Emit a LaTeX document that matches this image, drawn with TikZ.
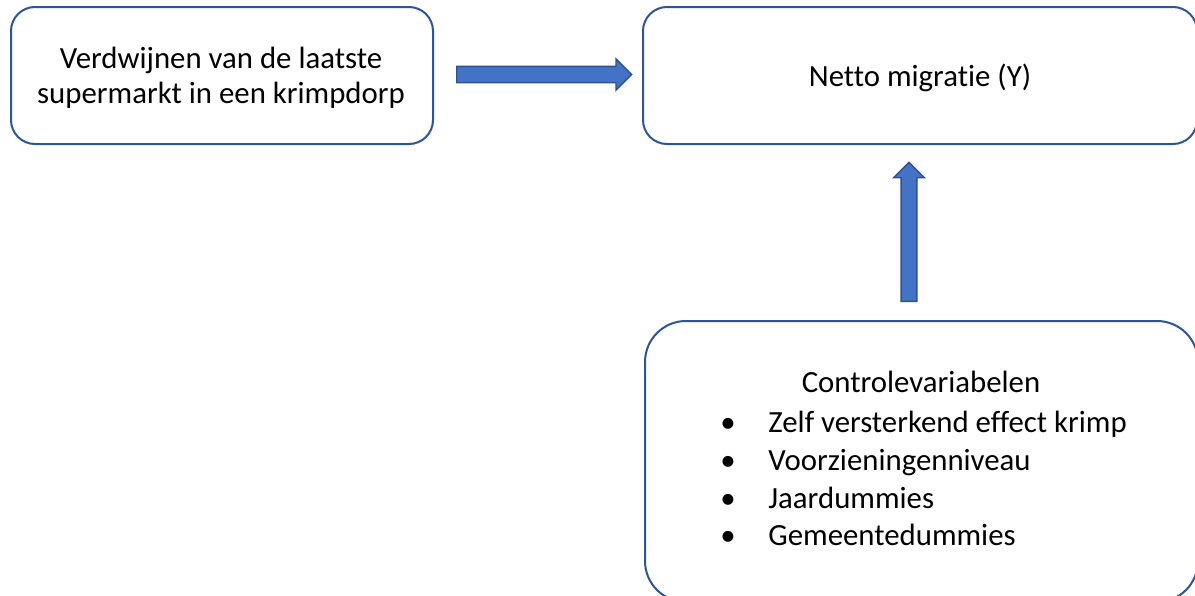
\documentclass[tikz,border=0pt]{standalone}
\usepackage{fontspec}
\setmainfont{Carlito}[Ligatures=NoCommon]
\usepackage{tikz}
\usetikzlibrary{positioning, shapes.arrows}
\definecolor{frame}{RGB}{47,85,151}
\definecolor{arrfill}{RGB}{68,114,196}
\definecolor{arrline}{RGB}{47,82,143}
\tikzset{
  box/.style      ={rectangle, rounded corners=12pt, draw=frame, line width=1pt,
                    fill=white, inner sep=0pt},
  bigbox/.style   ={box, rounded corners=20.5pt},
  fatarrow/.style ={single arrow, draw=arrline, fill=arrfill, line width=0.7pt,
                    inner xsep=0pt, inner ysep=3.75pt, minimum width=15pt,
                    single arrow head extend=3.75pt, anchor=tail},
  uparrow/.style  ={fatarrow, shape border rotate=90, inner xsep=3.6pt, inner ysep=0pt},
  txt/.style      ={inner sep=0pt, align=center},
}

\begin{document}
\begin{tikzpicture}[x=0.5pt, y=-0.5pt, every node/.style={font=\fontsize{15.4}{17.5}\selectfont}]
\useasboundingbox (0,0) rectangle (1195,595);
\fill[white] (0,0) rectangle (1195,595);
\clip (0,0) rectangle (1195,595);
% the three boxes
\node[box, minimum width=211pt, minimum height=68.5pt] (cause) at (222,75.5) {};
\node[box, minimum width=277pt, minimum height=68.5pt] (effect) at (920,75.5) {};
\node[bigbox, minimum width=276.5pt, minimum height=140.5pt] (control) at (921.5,461.5) {};
\node[txt] (causetext) at ([xshift=-0.5pt, yshift=-1.25pt]cause.center)
  {Verdwijnen van de laatste\\supermarkt in een krimpdorp};
\node[txt] (effecttext) at ([yshift=-1pt]effect.center) {Netto migratie (Y)};
% list of control variables
\node[txt, anchor=base] (ctitle) at (921,392) {Controlevariabelen};
\foreach \i/\y/\txt in {1/432/{Zelf versterkend effect krimp},
                        2/470/{Voorzieningenniveau},
                        3/508/{Jaardummies},
                        4/545/{Gemeentedummies}} {
  \node[txt, anchor=base] (bul\i) at (728,\y) {\textbullet};
  \node[txt, anchor=base west] (item\i) at (768,\y) {\txt};
}
% block arrows
\node[fatarrow, minimum height=87.5pt] (arrcause) at ([xshift=11pt, yshift=0.5pt]cause.east) {};
\node[uparrow, minimum height=69.5pt] (arrcontrol) at ([xshift=-6.25pt, yshift=9pt]control.north) {};
\end{tikzpicture}
\end{document}
